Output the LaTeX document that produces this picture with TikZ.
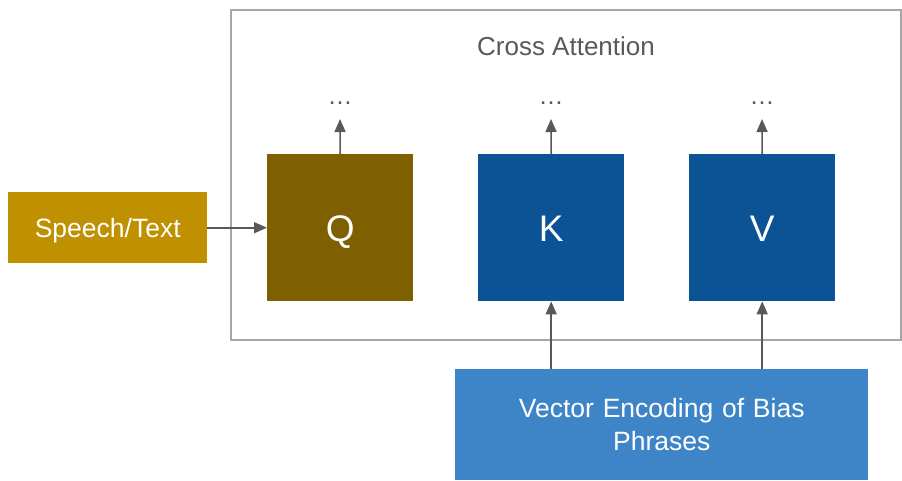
\documentclass[tikz,border=0pt]{standalone}
\usepackage{fontspec}
\setmainfont{Liberation Sans}
\usetikzlibrary{arrows.meta}
\definecolor{frameGray}{HTML}{A6A6A6}
\definecolor{lineGray}{HTML}{595959}
\definecolor{speechGold}{HTML}{BF9000}
\definecolor{queryBrown}{HTML}{7F6000}
\definecolor{keyBlue}{HTML}{0B5394}
\definecolor{biasBlue}{HTML}{3D85C6}
\tikzset{
  block/.style={draw=none, text=white, inner sep=0pt, anchor=north west},
  qkv/.style={block, minimum width=146pt, minimum height=147pt, text height=27pt, text depth=0pt, font=\fontsize{37}{40}\selectfont},
  link/.style={draw=lineGray, line width=1.6pt, -{Triangle[width=11pt,length=13pt]}},
  dots/.style={text=lineGray, anchor=base, font=\fontsize{25}{28}\selectfont}
}
\begin{document}
\begin{tikzpicture}[x=1pt,y=-1pt]
\useasboundingbox (0,0) rectangle (902,480);
% attention frame
\draw[frameGray, line width=1.8pt] (231,10) rectangle (901,340);
\node[text=lineGray, text height=19pt, text depth=0pt, inner sep=0pt, font=\fontsize{26}{30}\selectfont] (title) at (566,45.5) {Cross Attention};
% blocks
\node[block, fill=speechGold, minimum width=199pt, minimum height=71pt, text height=19pt, text depth=0pt, font=\fontsize{26.5}{30}\selectfont] (speech) at (8,192) {Speech/Text};
\node[qkv, fill=queryBrown] (q) at (267,154) {Q};
\node[qkv, fill=keyBlue] (k) at (478,154) {K};
\node[qkv, fill=keyBlue] (v) at (689,154) {V};
\node[block, fill=biasBlue, minimum width=413pt, minimum height=111pt, text width=400pt, align=center, font=\fontsize{26.5}{33}\selectfont] (bias) at (455,369) {Vector Encoding of Bias\\Phrases};
% ellipses above the blocks
\node[dots] (qd) at (340,104) {…};
\node[dots] (kd) at (551,104) {…};
\node[dots] (vd) at (762,104) {…};
\coordinate (qt) at (340,119);
\coordinate (kt) at (551,119);
\coordinate (vt) at (762,119);
% connectors
\draw[link] (speech.east) -- (q.west);
\draw[link] (q.north) -- (qt);
\draw[link] (k.north) -- (kt);
\draw[link] (v.north) -- (vt);
\draw[link] (bias.north -| k.south) -- (k.south);
\draw[link] (bias.north -| v.south) -- (v.south);
\end{tikzpicture}
\end{document}
